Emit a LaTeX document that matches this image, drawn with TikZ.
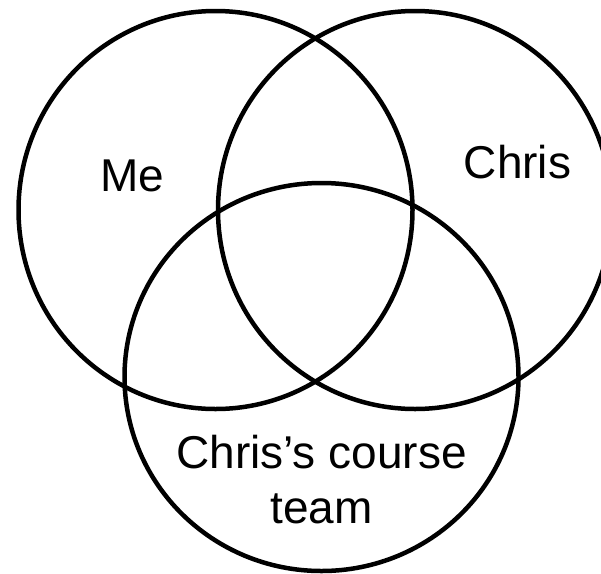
\documentclass[tikz,border=0pt]{standalone}
\usepackage{fontspec}
\setmainfont{Liberation Sans}
\begin{document}
\begin{tikzpicture}[x=1pt,y=-1pt,
  ring/.style={draw=black,line width=4.5pt},
  lbl/.style={anchor=base,inner sep=0pt,font=\fontsize{46}{55}\selectfont,text=black}]
\useasboundingbox[fill=white] (0,0) rectangle (601,573);
\draw[ring] (215.5,210) ellipse [x radius=197, y radius=199];
\draw[ring] (415,210) ellipse [x radius=197, y radius=199];
\draw[ring] (321.5,377) ellipse [x radius=197, y radius=194];
\node[lbl] (me) at (132.5,191) {Me};
\node[lbl] (chris) at (517.5,178) {Chris};
\node[lbl] (team1) at (321.5,468) {Chris’s course};
\node[lbl] (team2) at (321.5,523) {team};
\end{tikzpicture}
\end{document}
